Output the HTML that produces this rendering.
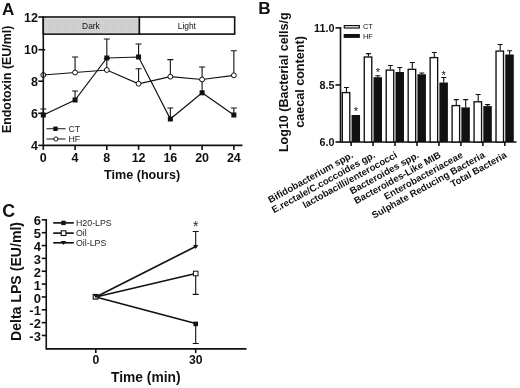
<!DOCTYPE html>
<html lang="en"><head><meta charset="utf-8"><title>Figure</title>
<style>html,body{margin:0;padding:0;background:#fff;}svg{display:block;}text{font-family:"Liberation Sans", sans-serif;fill:#111;}.b{font-weight:bold;}.ax{stroke:#111;stroke-width:1.6;fill:none;stroke-linecap:butt;}.ln{stroke:#111;stroke-width:1.2;fill:none;}.ln2{stroke:#111;stroke-width:1.65;fill:none;}.eb{stroke:#111;stroke-width:1.1;fill:none;}.lg{fill:#1e1e1e;font-size:8.8px;}</style></head><body>
<svg width="520" height="388" viewBox="0 0 520 388">
<rect x="0" y="0" width="520" height="388" fill="#fff"/>
<defs><pattern id="dots" width="2" height="2" patternUnits="userSpaceOnUse"><rect width="2" height="2" fill="#d3d3d3"/><rect width="1" height="1" fill="#c4c4c4"/></pattern></defs>
<g id="panelA">
<text class="b" x="2.1" y="14.6" font-size="17">A</text>
<rect x="43.30" y="17" width="96.08" height="17.1" fill="#fff" stroke="#111" stroke-width="1.6"/>
<rect x="44.60" y="18.4" width="93.58" height="14.4" fill="url(#dots)"/>
<rect x="139.38" y="17" width="95.28" height="17.1" fill="#fff" stroke="#111" stroke-width="1.6"/>
<text x="90.94" y="28.7" font-size="8.4" text-anchor="middle" style="fill:#111">Dark</text>
<text x="186.82" y="28.7" font-size="8.4" text-anchor="middle" style="fill:#111">Light</text>
<text class="b" x="142.1" y="179.2" font-size="12.6" text-anchor="middle">Time (hours)</text>
<text class="b" transform="translate(11.1 79.4) rotate(-90)" font-size="12.4" text-anchor="middle">Endotoxin (EU/ml)</text>
<path class="eb" d="M43.30 115.00V109.00M40.30 109.00H46.30"/>
<path class="eb" d="M75.06 100.00V91.00M72.06 91.00H78.06"/>
<path class="eb" d="M106.82 58.00V39.00M103.82 39.00H109.82"/>
<path class="eb" d="M138.58 57.00V44.00M135.58 44.00H141.58"/>
<path class="eb" d="M170.34 119.00V108.00M167.34 108.00H173.34"/>
<path class="eb" d="M202.10 92.80V80.00M199.10 80.00H205.10"/>
<path class="eb" d="M233.86 115.00V108.00M230.86 108.00H236.86"/>
<path class="eb" d="M75.06 72.50V57.00M72.06 57.00H78.06"/>
<path class="eb" d="M106.82 70.00V58.50M103.82 58.50H109.82"/>
<path class="eb" d="M138.58 83.75V68.75M135.58 68.75H141.58"/>
<path class="eb" d="M170.34 76.70V59.60M167.34 59.60H173.34"/>
<path class="eb" d="M202.10 79.50V67.00M199.10 67.00H205.10"/>
<path class="eb" d="M233.86 75.30V50.75M230.86 50.75H236.86"/>
<polyline class="ln" points="43.30,115.00 75.06,100.00 106.82,58.00 138.58,57.00 170.34,119.00 202.10,92.80 233.86,115.00"/>
<polyline class="ln" points="43.30,75.00 75.06,72.50 106.82,70.00 138.58,83.75 170.34,76.70 202.10,79.50 233.86,75.30"/>
<rect x="40.80" y="112.50" width="5" height="5" fill="#111"/>
<rect x="72.56" y="97.50" width="5" height="5" fill="#111"/>
<rect x="104.32" y="55.50" width="5" height="5" fill="#111"/>
<rect x="136.08" y="54.50" width="5" height="5" fill="#111"/>
<rect x="167.84" y="116.50" width="5" height="5" fill="#111"/>
<rect x="199.60" y="90.30" width="5" height="5" fill="#111"/>
<rect x="231.36" y="112.50" width="5" height="5" fill="#111"/>
<circle cx="43.30" cy="75.00" r="2.45" fill="#fff" stroke="#111" stroke-width="1"/>
<circle cx="75.06" cy="72.50" r="2.45" fill="#fff" stroke="#111" stroke-width="1"/>
<circle cx="106.82" cy="70.00" r="2.45" fill="#fff" stroke="#111" stroke-width="1"/>
<circle cx="138.58" cy="83.75" r="2.45" fill="#fff" stroke="#111" stroke-width="1"/>
<circle cx="170.34" cy="76.70" r="2.45" fill="#fff" stroke="#111" stroke-width="1"/>
<circle cx="202.10" cy="79.50" r="2.45" fill="#fff" stroke="#111" stroke-width="1"/>
<circle cx="233.86" cy="75.30" r="2.45" fill="#fff" stroke="#111" stroke-width="1"/>
<path class="ax" d="M43.30 16.2V145.40H242.5"/>
<path class="ax" d="M43.30 145.40h-5"/>
<text class="b" x="38" y="150.30" font-size="12.5" text-anchor="end">4</text>
<path class="ax" d="M43.30 113.30h-5"/>
<text class="b" x="38" y="118.20" font-size="12.5" text-anchor="end">6</text>
<path class="ax" d="M43.30 81.20h-5"/>
<text class="b" x="38" y="86.10" font-size="12.5" text-anchor="end">8</text>
<path class="ax" d="M45.10 49.70h-6.6"/>
<text class="b" x="38" y="54.00" font-size="12.5" text-anchor="end">10</text>
<path class="ax" d="M43.30 17.00h-5"/>
<text class="b" x="38" y="21.90" font-size="12.5" text-anchor="end">12</text>
<path class="ax" d="M43.30 145.40v4.5"/>
<text class="b" x="43.30" y="161.8" font-size="12.5" text-anchor="middle">0</text>
<path class="ax" d="M75.06 145.40v4.5"/>
<text class="b" x="75.06" y="161.8" font-size="12.5" text-anchor="middle">4</text>
<path class="ax" d="M106.82 145.40v4.5"/>
<text class="b" x="106.82" y="161.8" font-size="12.5" text-anchor="middle">8</text>
<path class="ax" d="M138.58 145.40v4.5"/>
<text class="b" x="138.58" y="161.8" font-size="12.5" text-anchor="middle">12</text>
<path class="ax" d="M170.34 145.40v4.5"/>
<text class="b" x="170.34" y="161.8" font-size="12.5" text-anchor="middle">16</text>
<path class="ax" d="M202.10 145.40v4.5"/>
<text class="b" x="202.10" y="161.8" font-size="12.5" text-anchor="middle">20</text>
<path class="ax" d="M233.86 145.40v4.5"/>
<text class="b" x="233.86" y="161.8" font-size="12.5" text-anchor="middle">24</text>
<path class="ln" d="M46.5 128.75H65.5M46.5 139H65.5"/>
<rect x="53.3" y="126.55" width="4.4" height="4.4" fill="#111"/>
<circle cx="55.9" cy="139" r="2.05" fill="#fff" stroke="#111" stroke-width="1"/>
<text class="lg" x="68.5" y="132">CT</text>
<text class="lg" x="68.5" y="142">HF</text>
</g>
<g id="panelB">
<text class="b" x="258.3" y="14.2" font-size="17.2">B</text>
<path class="ax" d="M340.50 27.1V142.00H516.5"/>
<path class="ax" d="M340.50 142.00h-5"/>
<text class="b" x="334.5" y="146.40" font-size="10.8" text-anchor="end">6.0</text>
<path class="ax" d="M340.50 84.95h-5"/>
<text class="b" x="334.5" y="89.35" font-size="10.8" text-anchor="end">8.5</text>
<path class="ax" d="M340.50 27.90h-5"/>
<text class="b" x="334.5" y="32.30" font-size="10.8" text-anchor="end">11.0</text>
<path class="ax" d="M351.10 142.00v4"/>
<path class="eb" d="M346.45 92.00V87.50M343.95 87.50H348.95"/>
<path class="eb" d="M355.90 115.00V116.00M353.40 116.00H358.40"/>
<rect x="342.30" y="92.60" width="7.5" height="49.40" fill="#fff" stroke="#111" stroke-width="1.35"/>
<rect x="351.55" y="115.00" width="8.5" height="27.00" fill="#111"/>
<text x="355.90" y="114.90" font-size="11" text-anchor="middle" style="fill:#111">*</text>
<text class="b" transform="translate(353.80 157) rotate(-29)" font-size="9.6" text-anchor="end">Bifidobacterium spp.</text>
<path class="ax" d="M373.06 142.00v4"/>
<path class="eb" d="M368.41 56.40V53.60M365.91 53.60H370.91"/>
<path class="eb" d="M377.86 77.20V75.80M375.36 75.80H380.36"/>
<rect x="364.26" y="57.00" width="7.5" height="85.00" fill="#fff" stroke="#111" stroke-width="1.35"/>
<rect x="373.51" y="77.20" width="8.5" height="64.80" fill="#111"/>
<text x="377.86" y="75.90" font-size="11" text-anchor="middle" style="fill:#111">*</text>
<text class="b" transform="translate(375.76 157) rotate(-29)" font-size="9.6" text-anchor="end">E.rectale/C.coccoides gp.</text>
<path class="ax" d="M395.02 142.00v4"/>
<path class="eb" d="M390.37 69.50V65.50M387.87 65.50H392.87"/>
<path class="eb" d="M399.82 72.00V67.50M397.32 67.50H402.32"/>
<rect x="386.22" y="70.10" width="7.5" height="71.90" fill="#fff" stroke="#111" stroke-width="1.35"/>
<rect x="395.47" y="72.00" width="8.5" height="70.00" fill="#111"/>
<text class="b" transform="translate(397.72 157) rotate(-29)" font-size="9.6" text-anchor="end">lactobacilli/enterococci</text>
<path class="ax" d="M416.98 142.00v4"/>
<path class="eb" d="M412.33 68.75V62.50M409.83 62.50H414.83"/>
<path class="eb" d="M421.78 74.25V73.00M419.28 73.00H424.28"/>
<rect x="408.18" y="69.35" width="7.5" height="72.65" fill="#fff" stroke="#111" stroke-width="1.35"/>
<rect x="417.43" y="74.25" width="8.5" height="67.75" fill="#111"/>
<text class="b" transform="translate(419.68 157) rotate(-29)" font-size="9.6" text-anchor="end">Bacteroides spp.</text>
<path class="ax" d="M438.94 142.00v4"/>
<path class="eb" d="M434.29 57.00V52.50M431.79 52.50H436.79"/>
<path class="eb" d="M443.74 82.50V77.50M441.24 77.50H446.24"/>
<rect x="430.14" y="57.60" width="7.5" height="84.40" fill="#fff" stroke="#111" stroke-width="1.35"/>
<rect x="439.39" y="82.50" width="8.5" height="59.50" fill="#111"/>
<text x="443.74" y="79.40" font-size="11" text-anchor="middle" style="fill:#111">*</text>
<text class="b" transform="translate(441.64 157) rotate(-29)" font-size="9.6" text-anchor="end">Bacteroides-Like MIB</text>
<path class="ax" d="M460.90 142.00v4"/>
<path class="eb" d="M456.25 105.00V99.60M453.75 99.60H458.75"/>
<path class="eb" d="M465.70 107.40V99.60M463.20 99.60H468.20"/>
<rect x="452.10" y="105.60" width="7.5" height="36.40" fill="#fff" stroke="#111" stroke-width="1.35"/>
<rect x="461.35" y="107.40" width="8.5" height="34.60" fill="#111"/>
<text class="b" transform="translate(463.60 157) rotate(-29)" font-size="9.6" text-anchor="end">Enterobacteriaceae</text>
<path class="ax" d="M482.86 142.00v4"/>
<path class="eb" d="M478.21 101.20V94.50M475.71 94.50H480.71"/>
<path class="eb" d="M487.66 106.10V104.60M485.16 104.60H490.16"/>
<rect x="474.06" y="101.80" width="7.5" height="40.20" fill="#fff" stroke="#111" stroke-width="1.35"/>
<rect x="483.31" y="106.10" width="8.5" height="35.90" fill="#111"/>
<text class="b" transform="translate(485.56 157) rotate(-29)" font-size="9.6" text-anchor="end">Sulphate Reducing Bacteria</text>
<path class="ax" d="M504.82 142.00v4"/>
<path class="eb" d="M500.17 50.50V44.50M497.67 44.50H502.67"/>
<path class="eb" d="M509.62 54.50V50.75M507.12 50.75H512.12"/>
<rect x="496.02" y="51.10" width="7.5" height="90.90" fill="#fff" stroke="#111" stroke-width="1.35"/>
<rect x="505.27" y="54.50" width="8.5" height="87.50" fill="#111"/>
<text class="b" transform="translate(507.52 157) rotate(-29)" font-size="9.6" text-anchor="end">Total Bacteria</text>
<rect x="344.3" y="25.6" width="15.0" height="2.4" fill="#fff" stroke="#111" stroke-width="1.2"/>
<rect x="343.7" y="34" width="16.2" height="3.9" fill="#111"/>
<text class="lg" x="363" y="29.3" style="font-size:7.4px;fill:#111">CT</text>
<text class="lg" x="363" y="38.6" style="font-size:7.4px;fill:#111">HF</text>
<text class="b" transform="translate(288.3 82.2) rotate(-90)" font-size="12.5" text-anchor="middle">Log10 (Bacterial cells/g</text>
<text class="b" transform="translate(303.9 82) rotate(-90)" font-size="12.6" text-anchor="middle">caecal content)</text>
</g>
<g id="panelC">
<text class="b" x="2.2" y="217.3" font-size="17.8">C</text>
<path class="ax" d="M46.25 219.05V348.90H246.5"/>
<path class="ax" d="M46.25 335.50h-4.5"/>
<text class="b" x="40.9" y="341.10" font-size="13" text-anchor="end">-3</text>
<path class="ax" d="M46.25 322.65h-4.5"/>
<text class="b" x="40.9" y="328.25" font-size="13" text-anchor="end">-2</text>
<path class="ax" d="M46.25 309.80h-4.5"/>
<text class="b" x="40.9" y="315.40" font-size="13" text-anchor="end">-1</text>
<path class="ax" d="M46.25 296.95h-4.5"/>
<text class="b" x="40.9" y="302.55" font-size="13" text-anchor="end">0</text>
<path class="ax" d="M46.25 284.10h-4.5"/>
<text class="b" x="40.9" y="289.70" font-size="13" text-anchor="end">1</text>
<path class="ax" d="M46.25 271.25h-4.5"/>
<text class="b" x="40.9" y="276.85" font-size="13" text-anchor="end">2</text>
<path class="ax" d="M46.25 258.40h-4.5"/>
<text class="b" x="40.9" y="264.00" font-size="13" text-anchor="end">3</text>
<path class="ax" d="M46.25 245.55h-4.5"/>
<text class="b" x="40.9" y="251.15" font-size="13" text-anchor="end">4</text>
<path class="ax" d="M46.25 232.70h-4.5"/>
<text class="b" x="40.9" y="238.30" font-size="13" text-anchor="end">5</text>
<path class="ax" d="M46.25 219.85h-4.5"/>
<text class="b" x="40.9" y="225.45" font-size="13" text-anchor="end">6</text>
<path class="ax" d="M95.80 348.90v4.2"/>
<text class="b" x="95.80" y="364.2" font-size="12.2" text-anchor="middle">0</text>
<path class="ax" d="M195.70 348.90v4.2"/>
<text class="b" x="195.70" y="364.2" font-size="12.2" text-anchor="middle">30</text>
<text class="b" x="145.8" y="382" font-size="13.8" text-anchor="middle">Time (min)</text>
<text class="b" transform="translate(21 281.5) rotate(-90)" font-size="14.1" text-anchor="middle">Delta LPS (EU/ml)</text>
<path class="eb" d="M195.70 323.5V343.5M192.70 343.5H198.70"/>
<path class="eb" d="M195.70 273.5V294.4M192.70 294.4H198.70"/>
<path class="eb" d="M195.70 246.5V231.5M192.70 231.5H198.70"/>
<path class="ln2" d="M95.80 296.95L195.70 323.50"/>
<path class="ln2" d="M95.80 296.95L195.70 273.50"/>
<path class="ln2" d="M95.80 296.95L195.70 246.50"/>
<rect x="93.50" y="294.65" width="4.6" height="4.6" fill="#111"/>
<rect x="93.20" y="294.45" width="4.6" height="4.6" fill="#fff" stroke="#111" stroke-width="1.1"/>
<path d="M93.40 294.35h5.2l-2.6 4.2z" fill="#111"/>
<rect x="193.40" y="321.6" width="4.6" height="4.6" fill="#111"/>
<rect x="193.40" y="271.2" width="4.6" height="4.6" fill="#fff" stroke="#111" stroke-width="1"/>
<path d="M193.10 244.9h5.2l-2.6 4.2z" fill="#111"/>
<text x="195.70" y="231.2" font-size="14" text-anchor="middle" style="fill:#222">*</text>
<path class="ln2" d="M53.2 222.90H73.8"/>
<path class="ln2" d="M53.2 233.10H73.8"/>
<path class="ln2" d="M53.2 242.80H73.8"/>
<rect x="61.3" y="220.7" width="4.4" height="4.4" fill="#111"/>
<rect x="61.2" y="230.8" width="4.7" height="4.7" fill="#fff" stroke="#111" stroke-width="1.1"/>
<path d="M60.8 241h5.4l-2.7 4z" fill="#111"/>
<text class="lg" x="76" y="226">H20-LPS</text>
<text class="lg" x="76" y="235.9">Oil</text>
<text class="lg" x="76" y="245.6">Oil-LPS</text>
</g>
</svg></body></html>
